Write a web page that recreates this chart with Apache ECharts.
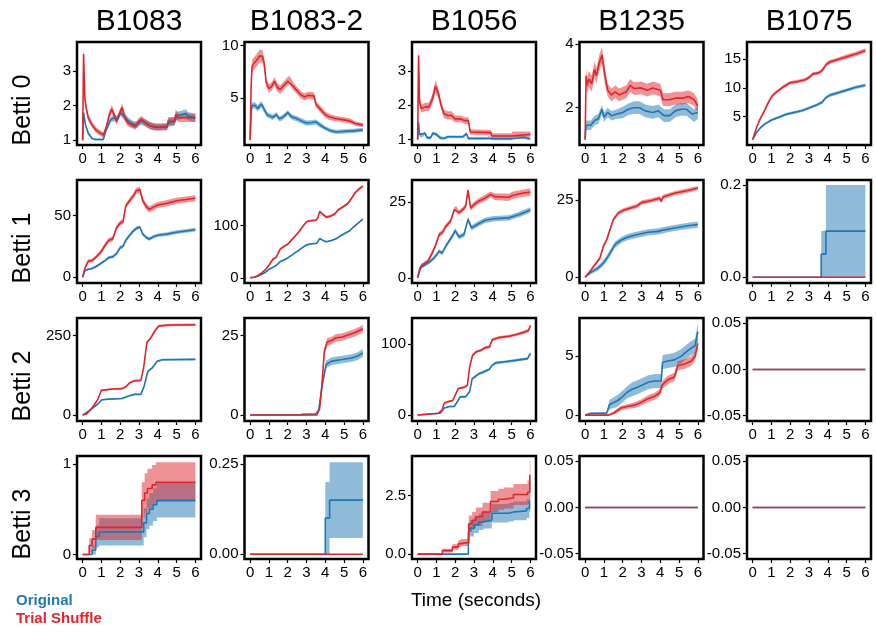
<!DOCTYPE html>
<html>
<head>
<meta charset="utf-8">
<script src="https://cdn.jsdelivr.net/npm/echarts@6/dist/echarts.min.js"></script>
<style>
  html, body { margin: 0; padding: 0; background: #fff; }
  #chart { width: 876px; height: 632px; }
</style>
</head>
<body>
<div id="chart"></div>
<script>
// Column (recording) names and row (Betti number) names
const COLUMNS = ['B1083', 'B1083-2', 'B1056', 'B1235', 'B1075'];
const ROWS = ['Betti 0', 'Betti 1', 'Betti 2', 'Betti 3'];
const SERIES_NAMES = ['Original', 'Trial Shuffle'];
const X_TICKS = [0, 1, 2, 3, 4, 5, 6];

// Each series: [time (s), mean, half-width of the shaded band]
// ---- Betti 0 ----
const b1083_b0_orig = [[0,1,0],[0.05,1.8,0.08],[0.15,1.45,0.06],[0.3,1.2,0.05],[0.5,1.05,0.03],[0.7,1.02,0.03],[1.1,1.02,0.03],[1.25,1.3,0.06],[1.5,1.6,0.08],[1.7,1.65,0.1],[1.85,1.6,0.1],[2.0,1.8,0.1],[2.2,1.7,0.1],[2.45,1.55,0.1],[2.7,1.45,0.1],[2.9,1.45,0.1],[3.1,1.55,0.1],[3.35,1.5,0.1],[3.6,1.42,0.1],[4.0,1.38,0.1],[4.5,1.4,0.1],[4.55,1.5,0.12],[4.9,1.55,0.12],[5.0,1.7,0.12],[5.5,1.78,0.12],[5.6,1.7,0.12],[6,1.65,0.12]];
const b1083_b0_shuf = [[0,1,0],[0.05,3.5,0.2],[0.12,2.2,0.15],[0.2,1.9,0.12],[0.3,1.65,0.1],[0.5,1.45,0.08],[0.7,1.3,0.08],[0.9,1.22,0.08],[1.1,1.15,0.08],[1.25,1.35,0.1],[1.4,1.7,0.12],[1.55,1.9,0.12],[1.7,1.7,0.1],[1.8,1.55,0.1],[1.95,1.75,0.1],[2.1,1.95,0.12],[2.25,1.65,0.1],[2.4,1.5,0.1],[2.6,1.45,0.1],[2.8,1.4,0.1],[3.0,1.55,0.1],[3.15,1.6,0.1],[3.35,1.5,0.1],[3.6,1.42,0.1],[3.8,1.38,0.1],[4.5,1.38,0.1],[4.55,1.55,0.12],[4.9,1.55,0.12],[4.95,1.75,0.15],[5.1,1.65,0.12],[6,1.65,0.12]];

const b1083_2_b0_orig = [[0,1,0],[0.05,3.5,0.3],[0.1,4.3,0.3],[0.25,4.3,0.3],[0.4,4.0,0.3],[0.6,4.4,0.3],[0.75,3.9,0.3],[0.9,3.4,0.25],[1.0,3.3,0.25],[1.2,3.15,0.25],[1.4,3.4,0.25],[1.55,3.0,0.25],[1.7,3.1,0.25],[1.9,3.4,0.25],[2.0,3.6,0.25],[2.2,3.2,0.25],[2.5,3.0,0.25],[2.8,2.75,0.25],[3.0,2.6,0.25],[3.3,2.65,0.25],[3.5,2.7,0.25],[3.7,2.45,0.25],[4.0,2.1,0.2],[4.3,1.85,0.2],[4.6,1.75,0.2],[5.0,1.8,0.2],[5.5,1.85,0.2],[6,1.95,0.2]];
const b1083_2_b0_shuf = [[0,1,0],[0.05,6,0.5],[0.1,8.0,0.6],[0.2,8.3,0.6],[0.35,8.6,0.6],[0.5,9.0,0.6],[0.65,9.0,0.6],[0.75,8.3,0.5],[0.85,6.5,0.4],[1.0,5.9,0.4],[1.15,6.1,0.4],[1.3,6.6,0.4],[1.45,6.0,0.4],[1.6,5.8,0.4],[1.8,6.2,0.4],[2.0,6.6,0.4],[2.1,6.7,0.4],[2.3,6.1,0.4],[2.5,5.7,0.35],[2.7,5.3,0.35],[2.9,5.1,0.35],[3.1,5.25,0.35],[3.4,5.2,0.35],[3.5,4.4,0.3],[3.7,4.0,0.3],[4.0,3.4,0.3],[4.2,3.2,0.3],[4.5,3.05,0.25],[5.0,2.9,0.25],[5.3,2.8,0.25],[5.6,2.55,0.2],[6,2.4,0.2]];

const b1056_b0_orig = [[0,1,0],[0.05,1.5,0.08],[0.1,1.15,0.06],[0.2,1.1,0.05],[0.4,1.18,0.05],[0.5,1.05,0.05],[0.7,1.05,0.05],[0.8,1.18,0.05],[1.0,1.15,0.05],[1.2,1.05,0.05],[1.4,1.03,0.04],[1.6,1.08,0.04],[2.4,1.08,0.04],[2.6,1.17,0.05],[2.7,1.03,0.04],[3.7,1.03,0.04],[3.8,1.06,0.04],[4.0,1.02,0.04],[5.0,1.02,0.04],[5.1,1.06,0.04],[5.7,1.06,0.04],[5.8,1.03,0.04],[6,1.02,0.04]];
const b1056_b0_shuf = [[0,1,0],[0.05,3.45,0.3],[0.1,2.1,0.15],[0.2,1.9,0.12],[0.4,1.95,0.12],[0.6,1.95,0.12],[0.8,2.2,0.15],[0.95,2.55,0.18],[1.1,2.35,0.15],[1.25,2.0,0.12],[1.4,1.75,0.12],[1.6,1.7,0.12],[1.8,1.7,0.12],[2.0,1.6,0.1],[2.3,1.6,0.1],[2.5,1.55,0.1],[2.7,1.55,0.1],[2.8,1.22,0.08],[3.9,1.2,0.08],[3.95,1.1,0.08],[5.0,1.1,0.08],[5.05,1.15,0.08],[6,1.15,0.08]];

const b1235_b0_orig = [[0,1,0],[0.05,1.45,0.15],[0.15,1.45,0.15],[0.3,1.45,0.15],[0.5,1.6,0.15],[0.7,1.65,0.15],[0.9,1.95,0.15],[1.0,1.7,0.15],[1.2,1.85,0.15],[1.4,1.75,0.15],[1.7,1.8,0.15],[2.0,1.85,0.18],[2.3,1.95,0.18],[2.6,2.0,0.2],[2.9,2.0,0.2],[3.2,1.9,0.2],[3.6,1.85,0.2],[3.9,1.9,0.2],[4.2,1.75,0.2],[4.5,1.75,0.2],[4.8,1.9,0.2],[5.1,1.95,0.2],[5.4,1.95,0.2],[5.7,1.8,0.2],[5.8,1.75,0.2],[6,1.85,0.2]];
const b1235_b0_shuf = [[0,1,0],[0.05,3.0,0.25],[0.1,2.7,0.25],[0.2,2.9,0.25],[0.35,2.75,0.25],[0.5,3.2,0.25],[0.6,3.0,0.25],[0.75,3.4,0.25],[0.9,3.65,0.25],[1.05,3.0,0.25],[1.2,2.55,0.2],[1.4,2.4,0.2],[1.6,2.5,0.2],[1.8,2.4,0.2],[2.0,2.45,0.2],[2.2,2.5,0.2],[2.4,2.7,0.2],[2.6,2.6,0.2],[3.0,2.62,0.2],[3.3,2.55,0.2],[3.6,2.62,0.2],[4.0,2.55,0.2],[4.15,2.25,0.2],[4.5,2.25,0.2],[4.8,2.3,0.2],[5.2,2.3,0.2],[5.5,2.35,0.2],[5.8,2.25,0.2],[6,2.05,0.2]];

const b1075_b0_orig = [[0,1,0],[0.1,1.6,0.1],[0.2,2.2,0.15],[0.4,3.0,0.2],[0.6,3.6,0.2],[0.8,4.0,0.2],[1.0,4.4,0.2],[1.4,4.9,0.25],[1.8,5.4,0.25],[2.2,5.7,0.25],[2.6,6.0,0.25],[3.0,6.5,0.25],[3.4,7.0,0.25],[3.7,7.5,0.3],[3.9,8.3,0.3],[4.1,8.7,0.3],[4.5,9.1,0.3],[5.0,9.6,0.3],[5.5,10.1,0.3],[6,10.45,0.3]];
const b1075_b0_shuf = [[0,1,0],[0.1,2.0,0.1],[0.2,3.0,0.15],[0.4,4.6,0.2],[0.6,5.8,0.25],[0.8,7.2,0.3],[1.0,8.4,0.3],[1.2,9.1,0.3],[1.4,9.6,0.3],[1.6,10.1,0.3],[1.8,10.5,0.3],[2.0,10.9,0.3],[2.4,11.1,0.3],[2.8,11.4,0.3],[3.0,11.8,0.3],[3.2,12.4,0.3],[3.5,12.6,0.3],[3.7,13.0,0.35],[3.9,14.0,0.35],[4.1,14.5,0.35],[4.5,14.9,0.35],[5.0,15.4,0.4],[5.5,15.9,0.4],[6,16.5,0.4]];

// ---- Betti 1 ----
const b1083_b1_orig = [[0,0,0],[0.1,5,0.8],[0.3,6.5,0.8],[0.5,7,0.8],[0.7,8.5,1],[1.0,11.5,1],[1.2,13.5,1],[1.4,16,1.2],[1.6,16.5,1.2],[1.8,19,1.2],[2.0,24,1.5],[2.15,25,1.5],[2.3,30,1.5],[2.5,34,1.5],[2.7,37.5,1.5],[2.9,40,1.5],[3.05,40.5,1.5],[3.2,35,1.5],[3.4,32,1.5],[3.55,31,1.5],[3.8,33,1.5],[4.0,34,1.5],[4.5,35,1.5],[5.0,36.5,1.5],[5.5,37.5,1.5],[6,38.5,1.5]];
const b1083_b1_shuf = [[0,0,0],[0.1,6,1],[0.2,10,1.5],[0.3,13,1.5],[0.5,13.5,1.5],[0.7,16,1.5],[1.0,21,2],[1.2,26,2],[1.4,30,2],[1.6,31,2],[1.8,40,2],[2.0,44,2],[2.15,45,2],[2.3,58,2],[2.5,62,2],[2.7,66,2],[2.85,70,2.5],[3.05,71,2.5],[3.2,62,2.5],[3.4,57,2.5],[3.55,55,2.5],[3.8,57,2.5],[4.0,58.5,2.5],[4.5,60,2.5],[5.0,62,2.5],[5.5,63,2.5],[6,64,2.5]];

const b1083_2_b1_orig = [[0,0,0],[0.2,1,0.5],[0.4,3,0.8],[0.6,6.5,1],[0.8,10,1],[1.0,16,1.2],[1.2,20,1.2],[1.4,24,1.2],[1.6,31,1.5],[1.8,34,1.5],[2.0,38,1.5],[2.2,43,1.5],[2.4,48,1.5],[2.6,53,1.5],[2.8,58,1.5],[3.0,63,1.5],[3.3,65,1.5],[3.55,66,1.5],[3.7,75,1.5],[3.85,72,1.5],[4.05,69,1.5],[4.3,71,1.5],[4.6,75,1.5],[4.8,80,1.5],[5.1,86,1.5],[5.3,90,1.5],[5.5,97,1.5],[5.7,103,1.5],[6,112,1.5]];
const b1083_2_b1_shuf = [[0,0,0],[0.2,1,0.5],[0.4,4,1],[0.6,9,1],[0.8,15,1.5],[1.0,24,1.5],[1.2,35,2],[1.4,40,2],[1.6,55,2],[1.8,60,2],[2.0,64,2],[2.2,72,2],[2.4,80,2],[2.6,88,2],[2.8,98,2],[3.0,107,2],[3.2,109,2],[3.5,110,2],[3.6,114,2],[3.7,127,2.5],[3.85,122,2.5],[4.05,116,2.5],[4.3,118,2.5],[4.5,122,2.5],[4.7,130,2.5],[5.0,137,2.5],[5.2,142,2.5],[5.4,152,2.5],[5.6,163,2.5],[5.8,170,2.5],[6,175,2.5]];

const b1056_b1_orig = [[0,0,0],[0.12,3.3,0.5],[0.35,4.1,0.5],[0.62,5.2,0.6],[0.88,6.6,0.6],[1.15,8.8,0.7],[1.3,8.2,0.7],[1.5,10.5,0.7],[1.85,13.8,0.8],[2.0,15.6,0.8],[2.2,13.5,0.8],[2.47,14.3,0.8],[2.68,19.3,0.9],[2.87,16.5,0.9],[3.17,17.6,0.9],[3.6,19,0.9],[4.05,19.5,0.9],[4.85,19.8,0.9],[5.4,20.9,0.9],[6,22.4,0.9]];
const b1056_b1_shuf = [[0,0,0],[0.2,4.1,0.6],[0.35,4.7,0.6],[0.55,5.5,0.7],[0.8,8.5,0.8],[0.97,11,0.8],[1.15,14.3,0.8],[1.32,15,0.8],[1.5,17,0.8],[1.75,18.7,0.8],[1.95,22.5,0.8],[2.05,23,0.8],[2.2,21.5,0.8],[2.4,22.5,0.8],[2.56,23.7,0.9],[2.68,29,1],[2.82,23,0.9],[3.0,24.2,0.9],[3.25,25.3,1],[3.6,26.4,1],[3.88,27.5,1],[4.1,26.8,1.1],[4.85,26.6,1.2],[5.05,27.2,1.2],[5.55,27.9,1.2],[6,28.3,1.2]];

const b1235_b1_orig = [[0,0,0],[0.26,1.4,0.6],[0.7,3,0.8],[0.97,4.6,0.9],[1.23,6.8,1],[1.59,10.5,1],[1.94,12.1,1],[2.29,13,1],[2.73,13.7,1],[3.35,14.5,1],[3.88,14.8,1],[4.23,15.3,1],[4.76,15.9,1],[5.47,16.6,1],[6,17,1]];
const b1235_b1_shuf = [[0,0,0],[0.26,1.9,0.4],[0.53,4.1,0.5],[0.79,6.2,0.6],[0.97,10,0.7],[1.15,12.1,0.7],[1.32,15.3,0.7],[1.5,18.6,0.7],[1.76,20.7,0.7],[2.03,21.6,0.7],[2.38,22.3,0.7],[2.73,22.9,0.7],[3.0,24.1,0.7],[3.53,24.8,0.7],[3.97,25.5,0.7],[4.06,24.5,0.7],[4.14,25.9,0.7],[4.76,27.1,0.7],[5.47,28,0.7],[6,28.8,0.7]];

const b1075_b1_orig = [[0,0,0],[3.65,0.05,0.05],[3.9,0.1,0.1],[6,0.1,0.1]];
const b1075_b1_shuf = [[0,0,0],[6,0,0]];

// ---- Betti 2 ----
const b1083_b2_orig = [[0,0,0],[0.35,13.5,1],[0.8,34,2],[1.02,48,2],[1.4,50,2],[2.1,52,2],[2.45,60,2],[2.75,65,2],[3.1,65,2],[3.27,90,2.5],[3.47,137,3],[3.7,148,3],[3.97,169,3],[4.25,174,3],[6,175,3]];
const b1083_b2_shuf = [[0,0,0],[0.2,3,1],[0.5,22,2],[0.8,48,2],[1.0,78,3],[1.2,79,3],[1.6,82,3],[2.1,83,3],[2.3,89,3],[2.5,101,3],[2.75,108,3],[3.1,109,3],[3.25,150,3],[3.42,228,4],[3.6,240,4],[3.85,265,4],[4.05,280,4],[4.6,283,4],[6,284,4]];

const b1083_2_b2_orig = [[0,0,0],[2.6,0,0.1],[2.8,0.2,0.3],[3.5,0.3,0.3],[3.65,1.5,0.5],[3.85,10,1],[4.05,16,1.2],[4.35,17,1.2],[4.9,17.5,1.2],[5.4,18,1.2],[5.7,18.5,1.2],[6,19.6,1.2]];
const b1083_2_b2_shuf = [[0,0,0],[3.55,0,0.1],[3.7,2,0.4],[3.8,8,0.8],[3.95,20,1.2],[4.1,23,1.2],[4.35,23.5,1.2],[4.55,24.3,1.2],[4.9,24.6,1.2],[5.25,25.3,1.2],[5.6,26,1.2],[6,27.2,1.2]];

const b1056_b2_orig = [[0,0,0],[1.2,2.5,0.5],[1.3,5,1],[1.42,10,1],[1.68,12,1],[1.95,12,1],[2.12,19,1.5],[2.25,25.5,1.5],[2.56,26,1.5],[2.77,33,1.5],[2.9,51,2],[3.25,58,2],[3.53,61,2],[3.8,64,2],[3.97,70,2],[4.15,73.5,2],[4.65,75,2],[5.2,77,2],[5.85,79.5,2],[6,87,3]];
const b1056_b2_shuf = [[0,0,0],[1.1,2.5,0.5],[1.3,7,1],[1.42,17,1.5],[1.7,19.5,1.5],[1.87,20.5,1.5],[2.0,28,1.5],[2.17,37.5,1.5],[2.47,39,1.5],[2.65,42,1.5],[2.77,68,2],[2.92,84,2],[3.12,89,2],[3.35,91,2],[3.6,95,2],[3.83,96,2],[3.97,106,2],[4.3,109,2],[4.85,111,2],[5.2,113,2],[5.7,117,2.5],[5.9,119,2.5],[6,126,3]];

const b1235_b2_orig = [[0,0,0],[0.3,0.15,0.05],[1.15,0.17,0.1],[1.3,0.9,0.4],[1.7,1.2,0.5],[1.95,1.5,0.5],[2.2,1.9,0.5],[2.5,2.2,0.6],[2.75,2.35,0.6],[3.1,2.6,0.6],[3.35,2.8,0.6],[3.7,2.9,0.6],[4.05,2.9,0.6],[4.12,4.5,0.6],[4.4,4.6,0.6],[4.75,4.7,0.6],[5.1,5.0,0.6],[5.55,5.6,0.6],[5.85,5.9,0.6],[6,7.1,0.7]];
const b1235_b2_shuf = [[0,0,0],[1.25,0,0.05],[1.55,0.2,0.15],[1.9,0.6,0.2],[2.3,0.75,0.2],[2.65,0.85,0.25],[3.0,1.1,0.25],[3.35,1.4,0.3],[3.7,1.6,0.3],[3.97,1.9,0.3],[4.12,2.6,0.35],[4.4,3.0,0.35],[4.75,3.25,0.35],[4.93,4.2,0.4],[5.3,4.35,0.4],[5.65,4.6,0.4],[5.85,5.0,0.4],[6,6.1,0.5]];

const b1075_b2_orig = [[0,0,0],[6,0,0]];
const b1075_b2_shuf = [[0,0,0],[6,0,0]];

// ---- Betti 3 (step functions: each value holds until the next time) ----
const b1083_b3_orig = [[0,0,0],[0.5,0.05,0.05],[0.7,0.2,0.12],[0.88,0.25,0.15],[3.25,0.35,0.16],[3.4,0.45,0.17],[3.55,0.5,0.18],[3.75,0.55,0.18],[3.95,0.6,0.19],[6,0.6,0.19]];
const b1083_b3_shuf = [[0,0,0],[0.35,0.1,0.08],[0.5,0.17,0.1],[0.7,0.3,0.14],[3.15,0.6,0.2],[3.3,0.68,0.22],[3.45,0.73,0.22],[3.7,0.77,0.22],[3.9,0.8,0.22],[6,0.8,0.22]];

const b1083_2_b3_orig = [[0,0,0],[4.0,0.1,0.1],[4.23,0.15,0.105],[6,0.15,0.105]];
const b1083_2_b3_shuf = [[0,0,0],[6,0,0]];

const b1056_b3_orig = [[0,0,0],[2.7,0.9,0.3],[2.78,1.1,0.35],[3.0,1.25,0.35],[3.25,1.38,0.35],[3.5,1.45,0.35],[3.95,1.75,0.4],[4.85,1.8,0.4],[5.1,1.85,0.4],[5.8,1.95,0.4],[5.95,2.25,0.45],[6,2.25,0.45]];
const b1056_b3_shuf = [[0,0,0],[1.32,0.15,0.08],[1.85,0.3,0.12],[2.17,0.45,0.15],[2.3,0.5,0.15],[2.72,1.3,0.35],[2.9,1.45,0.35],[3.1,1.6,0.4],[3.45,1.8,0.4],[3.88,2.25,0.45],[4.3,2.35,0.45],[4.6,2.4,0.45],[5.1,2.55,0.45],[5.85,2.65,0.5],[5.97,3.4,0.6],[6,3.4,0.6]];

const b1235_b3_orig = [[0,0,0],[6,0,0]];
const b1235_b3_shuf = [[0,0,0],[6,0,0]];
const b1075_b3_orig = [[0,0,0],[6,0,0]];
const b1075_b3_shuf = [[0,0,0],[6,0,0]];

// y-axis tick values and their printed labels, row by row
const Y_TICKS = [
  [1,2,3], [5,10], [1,2,3], [2,4], [5,10,15],
  [0,50], [0,100], [0,25], [0,25], [0,0.2],
  [0,250], [0,25], [0,100], [0,5], [-0.05,0,0.05],
  [0,1], [0,0.25], [0,2.5], [-0.05,0,0.05], [-0.05,0,0.05]
];
const Y_TICK_LABELS = [
  ['1','2','3'], ['5','10'], ['1','2','3'], ['2','4'], ['5','10','15'],
  ['0','50'], ['0','100'], ['0','25'], ['0','25'], ['0.0','0.2'],
  ['0','250'], ['0','25'], ['0','100'], ['0','5'], ['-0.05','0.00','0.05'],
  ['0','1'], ['0.00','0.25'], ['0.0','2.5'], ['-0.05','0.00','0.05'], ['-0.05','0.00','0.05']
];

// Panel series, row by row
const PANEL_SERIES = [
  [b1083_b0_orig, b1083_b0_shuf], [b1083_2_b0_orig, b1083_2_b0_shuf], [b1056_b0_orig, b1056_b0_shuf], [b1235_b0_orig, b1235_b0_shuf], [b1075_b0_orig, b1075_b0_shuf],
  [b1083_b1_orig, b1083_b1_shuf], [b1083_2_b1_orig, b1083_2_b1_shuf], [b1056_b1_orig, b1056_b1_shuf], [b1235_b1_orig, b1235_b1_shuf], [b1075_b1_orig, b1075_b1_shuf],
  [b1083_b2_orig, b1083_b2_shuf], [b1083_2_b2_orig, b1083_2_b2_shuf], [b1056_b2_orig, b1056_b2_shuf], [b1235_b2_orig, b1235_b2_shuf], [b1075_b2_orig, b1075_b2_shuf],
  [b1083_b3_orig, b1083_b3_shuf], [b1083_2_b3_orig, b1083_2_b3_shuf], [b1056_b3_orig, b1056_b3_shuf], [b1235_b3_orig, b1235_b3_shuf], [b1075_b3_orig, b1075_b3_shuf]
];
// Panels whose curves are drawn as steps
const STEP_PANELS = [9, 15, 16, 17];

// ---- layout ----
const GRID_LEFT = [77, 244.5, 412, 579.5, 747];
const GRID_TOP = [42, 180, 318, 456];
const GRID_W = 124, GRID_H = 103;
const Y_RANGE = [
  [0.86, 3.85], [0.5, 10.35], [0.84, 3.84], [0.83, 4.06], [0.05, 17.98],
  [-4.7, 78.8], [-9.9, 186.9], [-1.7, 32.3], [-1.87, 31.4], [-0.0125, 0.2108],
  [-18.7, 305], [-1.9, 30.6], [-8.4, 136.7], [-0.5, 8.26], [-0.0557, 0.0557],
  [-0.05, 1.09], [-0.013, 0.272], [-0.21, 4.2], [-0.0557, 0.0557], [-0.0557, 0.0557]
];
const COLORS = ['#1f77b4', '#e0262b'];
const FONT = 'Liberation Sans, Arial, Helvetica, sans-serif';

// Expand knots into hv-step vertices (value held until the next knot)
function toSteps(rows) {
  const out = [];
  for (let i = 0; i < rows.length; i++) {
    out.push(rows[i]);
    if (i + 1 < rows.length) out.push([rows[i + 1][0], rows[i][1], rows[i][2]]);
  }
  return out;
}

const grids = [], xAxes = [], yAxes = [], series = [];

PANEL_SERIES.forEach((pair, i) => {
  const r = Math.floor(i / 5), c = i % 5;
  grids.push({
    left: GRID_LEFT[c], top: GRID_TOP[r], width: GRID_W, height: GRID_H,
    show: true, borderColor: '#000', borderWidth: 2.5, backgroundColor: 'transparent'
  });
  xAxes.push({
    gridIndex: i, type: 'value', min: -0.3, max: 6.3,
    axisLine: { show: false, onZero: false },
    splitLine: { show: false },
    axisTick: { show: true, length: 4, lineStyle: { color: '#000', width: 1.2 }, customValues: X_TICKS },
    axisLabel: { customValues: X_TICKS, margin: 6, fontSize: 15, color: '#000', fontFamily: FONT, formatter: v => String(v) }
  });
  const ticks = Y_TICKS[i], labels = Y_TICK_LABELS[i];
  yAxes.push({
    gridIndex: i, type: 'value', min: Y_RANGE[i][0], max: Y_RANGE[i][1],
    axisLine: { show: false, onZero: false },
    splitLine: { show: false },
    axisTick: { show: true, length: 4, lineStyle: { color: '#000', width: 1.2 }, customValues: ticks },
    axisLabel: {
      customValues: ticks, margin: 6, fontSize: 15, color: '#000', fontFamily: FONT,
      formatter: v => {
        let best = 0;
        ticks.forEach((t, k) => { if (Math.abs(t - v) < Math.abs(ticks[best] - v)) best = k; });
        return labels[best];
      }
    }
  });

  const isStep = STEP_PANELS.indexOf(i) >= 0;
  const prepared = pair.map(rows => isStep ? toSteps(rows) : rows);

  // shaded bands (original first, shuffle on top)
  prepared.forEach((rows, s) => {
    if (!rows.some(d => d[2] > 0)) return;
    const band = rows.map(d => [d[0], d[1] - d[2], d[1] + d[2]]);
    series.push({
      type: 'custom', name: SERIES_NAMES[s], xAxisIndex: i, yAxisIndex: i,
      silent: true, animation: false, clip: true, z: 2,
      encode: { x: 0, y: [1, 2] },
      data: band,
      renderItem: (params, api) => {
        if (params.dataIndex !== 0) return null;
        const pts = [];
        band.forEach(d => pts.push(api.coord([d[0], d[2]])));
        for (let k = band.length - 1; k >= 0; k--) pts.push(api.coord([band[k][0], band[k][1]]));
        return { type: 'polygon', shape: { points: pts }, style: { fill: COLORS[s], opacity: 0.5 } };
      }
    });
  });
  // mean lines
  prepared.forEach((rows, s) => {
    series.push({
      type: 'line', name: SERIES_NAMES[s], xAxisIndex: i, yAxisIndex: i,
      data: rows.map(d => [d[0], d[1]]),
      showSymbol: false, symbol: 'none', animation: false, silent: true, z: 3 + s,
      lineStyle: { color: COLORS[s], width: 1.6 }
    });
  });
});

// Column titles, row titles, axis title and colour key
const graphics = [];
COLUMNS.forEach((name, c) => {
  graphics.push({ type: 'text', x: GRID_LEFT[c] + GRID_W / 2, y: 22,
    style: { text: name, font: '30px ' + FONT, fill: '#000', textAlign: 'center', textVerticalAlign: 'middle' } });
});
ROWS.forEach((name, r) => {
  graphics.push({ type: 'text', x: 23, y: GRID_TOP[r] + 68, rotation: Math.PI / 2,
    style: { text: name, font: '25px ' + FONT, fill: '#000', textAlign: 'center', textVerticalAlign: 'middle' } });
});
graphics.push({ type: 'text', x: 476, y: 601,
  style: { text: 'Time (seconds)', font: '19px ' + FONT, fill: '#000', textAlign: 'center', textVerticalAlign: 'middle' } });
SERIES_NAMES.forEach((name, s) => {
  graphics.push({ type: 'text', x: 16, y: 601 + s * 18,
    style: { text: name, font: 'bold 15px ' + FONT, fill: COLORS[s], textAlign: 'left', textVerticalAlign: 'middle' } });
});

const chart = echarts.init(document.getElementById('chart'), null, { renderer: 'canvas' });
chart.setOption({
  backgroundColor: '#fff',
  animation: false,
  textStyle: { fontFamily: FONT },
  grid: grids,
  xAxis: xAxes,
  yAxis: yAxes,
  series: series,
  graphic: graphics
});
</script>
</body>
</html>
